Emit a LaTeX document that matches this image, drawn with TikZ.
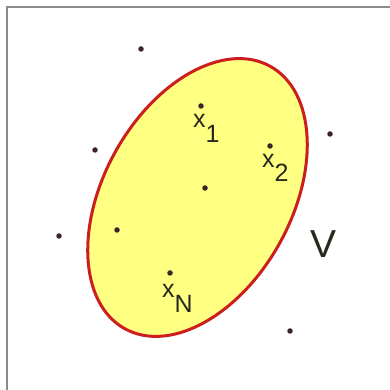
\documentclass[tikz,border=0pt]{standalone}
\usepackage{fontspec}
\setmainfont{Liberation Sans}
\begin{document}
\begin{tikzpicture}[x=1pt,y=1pt,
  pt/.style={circle,fill=dotc,inner sep=0pt,minimum size=5.5pt},
  lbl/.style={anchor=base west,inner sep=0pt,text=txtc,font=\fontsize{25}{25}\selectfont}]
\definecolor{dotc}{RGB}{60,36,36}
\definecolor{txtc}{RGB}{40,40,30}
\definecolor{fillc}{RGB}{255,255,130}
\definecolor{edgec}{RGB}{205,30,30}
\useasboundingbox (0,0) rectangle (390,390);
\fill[white] (0,0) rectangle (390,390);
\draw[gray!90,line width=1.2pt] (7,-5) -- (7,383) -- (395,383);
\coordinate (c) at (197.5,192.5);
\draw[edgec,fill=fillc,line width=3pt,rotate around={61:(c)}] (c) ellipse [x radius=150pt, y radius=94pt];
\node[pt] (p1) at (141,341) {};
\node[pt] (p2) at (201,284) {};
\node[pt] (p3) at (270,244) {};
\node[pt] (p4) at (330,256) {};
\node[pt] (p5) at (95,240) {};
\node[pt] (p6) at (205,202) {};
\node[pt] (p7) at (117,160) {};
\node[pt] (p8) at (59,154) {};
\node[pt] (p9) at (170,117) {};
\node[pt] (p10) at (290,59) {};
\node[lbl] (l1) at (193,262) {x\raisebox{-15pt}{1}};
\node[lbl] (l2) at (262,222) {x\raisebox{-14pt}{2}};
\node[lbl] (l3) at (162,92) {x\raisebox{-15pt}{N}};
\node[lbl,font=\fontsize{39}{39}\selectfont] (v) at (310,132) {V};
\end{tikzpicture}
\end{document}
